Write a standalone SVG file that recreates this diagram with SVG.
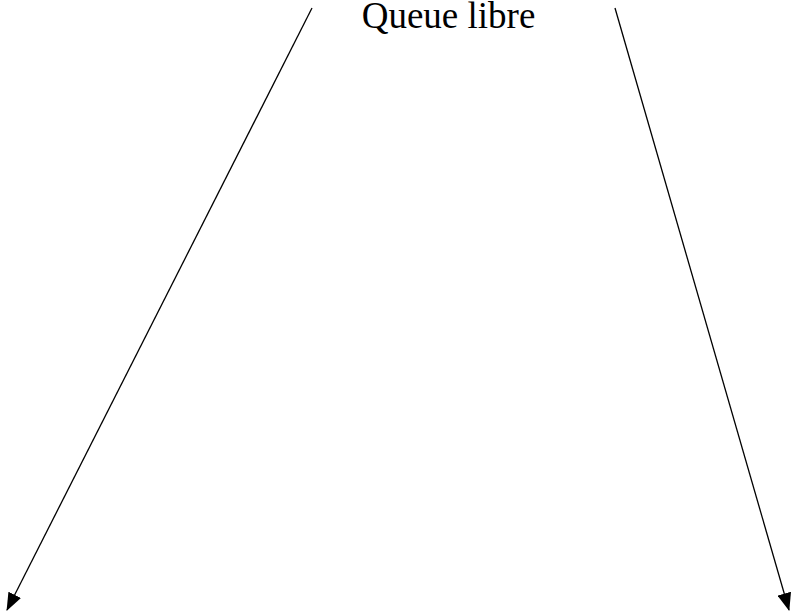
<svg xmlns="http://www.w3.org/2000/svg" width="791" height="612" viewBox="0 0 791 612">
<defs>
<style>
.conn{stroke:#000;stroke-width:1.3;fill:none;marker-end:url(#ah)}
.lbl{font-family:"Liberation Serif","Times New Roman",serif;font-size:37px;fill:#000}
</style>
<marker id="ah" markerUnits="userSpaceOnUse" markerWidth="18" markerHeight="14" refX="17" refY="7" orient="auto" viewBox="0 0 18 14">
<path d="M0,0 L18,7 L0,14 Z" fill="#000"/>
</marker>
</defs>
<rect width="791" height="612" fill="#fff"/>
<g id="node-queue-libre">
<text class="lbl" x="448.5" y="28" text-anchor="middle">Queue libre</text>
</g>
<g id="connectors">
<line class="conn" x1="312" y1="8" x2="7" y2="610"/>
<line class="conn" x1="615" y1="8" x2="789" y2="610"/>
</g>
</svg>
